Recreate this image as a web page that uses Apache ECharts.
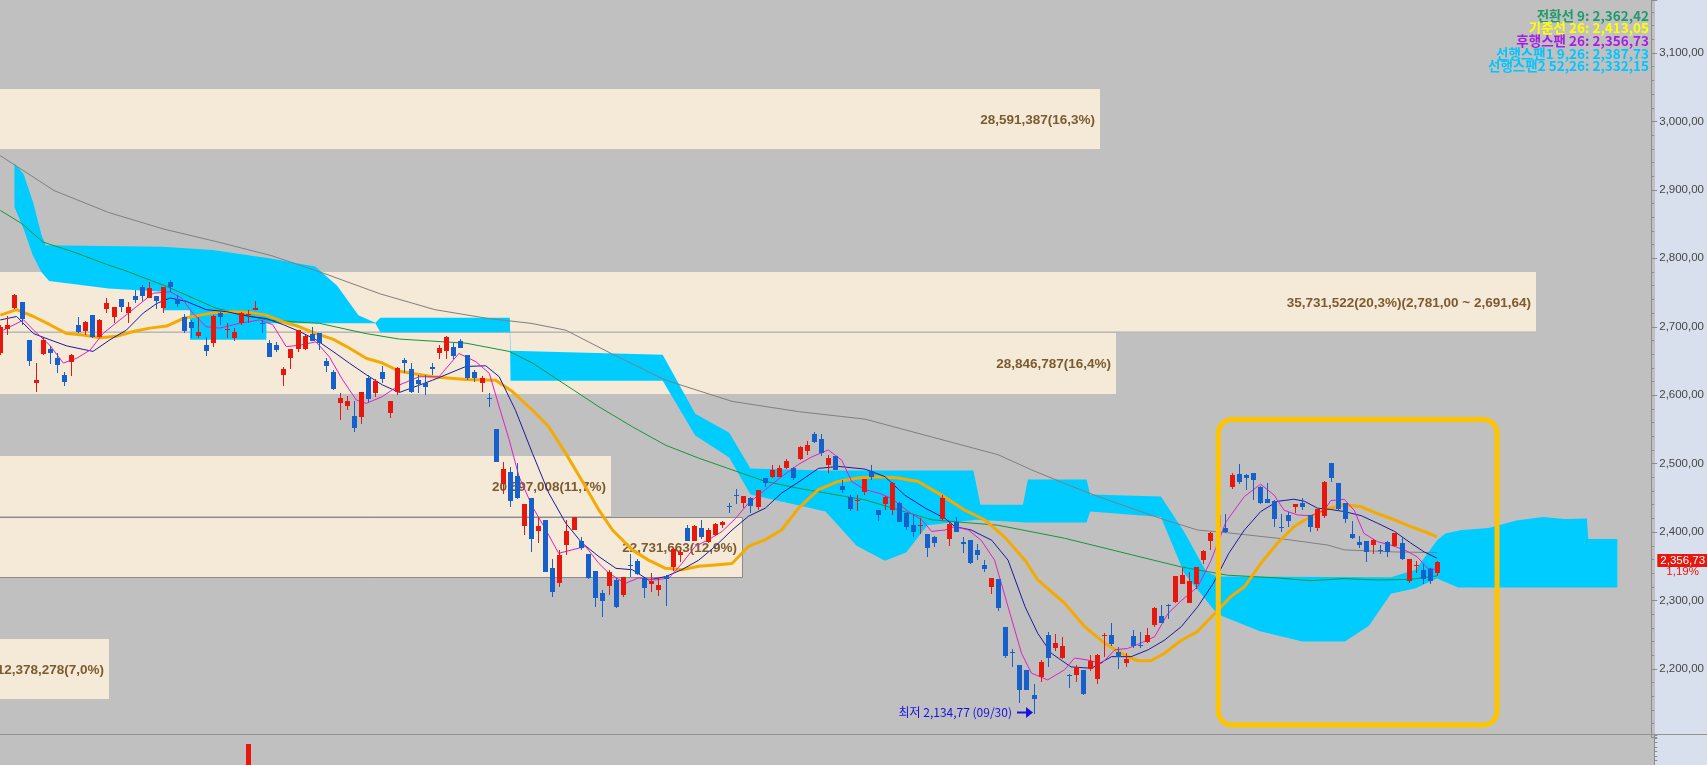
<!DOCTYPE html>
<html>
<head>
<meta charset="utf-8">
<script src="https://cdn.jsdelivr.net/npm/echarts/dist/echarts.min.js"></script>
<style>
  html, body { margin: 0; padding: 0; }
  body { background: linear-gradient(to right, #c0c0c0 0, #c0c0c0 1655px, #d7e0ec 1655px); width: 1707px; height: 765px; overflow: hidden; }
  #chart { width: 1707px; height: 765px; }
</style>
</head>
<body>
<div id="chart"></div>
<script>
// ---- daily candles: [open, close, low, high] ----
const candles = [
[2662.1,2700.1,2658.7,2702.5],[2696.7,2702.5,2687.9,2715.7],[2727.9,2746.4,2725.4,2747.8],[2735.7,2711.3,2702.5,2736.5],
[2680.6,2650.4,2642.6,2681.0],[2617.3,2622.2,2605.1,2646.5],[2659.7,2680.6,2658.7,2683.0],[2667.0,2661.2,2645.6,2671.9],
[2654.3,2644.6,2631.9,2661.2],[2629.5,2619.8,2613.4,2634.4],[2649.0,2658.7,2628.0,2659.5],[2702.5,2692.3,2691.5,2714.7],
[2693.8,2707.4,2687.9,2708.9],[2717.2,2685.5,2683.1,2717.5],[2685.5,2709.9,2684.5,2710.8],[2725.9,2734.7,2719.6,2741.5],
[2714.7,2728.8,2705.0,2729.3],[2740.5,2729.3,2722.0,2741.0],[2720.6,2728.4,2706.0,2736.6],[2744.9,2739.1,2734.2,2753.7],
[2758.6,2744.9,2738.1,2761.0],[2742.5,2757.1,2742.0,2765.9],[2744.9,2738.1,2725.4,2745.5],[2727.9,2757.6,2720.6,2758.0],
[2765.9,2758.6,2751.3,2768.3],[2740.0,2733.2,2729.3,2746.4],[2714.7,2693.8,2690.4,2718.6],[2707.4,2698.6,2683.1,2709.9],
[2687.0,2692.8,2683.1,2714.7],[2673.3,2664.6,2657.3,2685.5],[2676.7,2716.2,2670.9,2716.7],[2719.6,2714.7,2702.5,2722.0],
[2695.2,2696.2,2684.0,2705.0],[2684.0,2692.8,2679.7,2697.7],[2705.0,2719.6,2702.5,2722.0],[2717.2,2718.1,2705.0,2724.5],
[2724.9,2727.9,2724.5,2737.6],[2706.0,2705.0,2690.4,2709.9],[2676.7,2656.3,2656.0,2680.6],[2673.3,2666.0,2662.6,2678.2],
[2629.5,2638.3,2613.4,2640.7],[2654.8,2667.5,2637.8,2668.0],[2667.5,2695.2,2662.6,2695.7],[2667.5,2687.0,2666.0,2688.0],
[2689.4,2679.7,2679.0,2700.1],[2690.9,2676.7,2666.0,2691.5],[2650.4,2642.6,2634.4,2653.8],[2633.9,2609.5,2607.6,2636.8],
[2589.1,2595.4,2563.8,2602.7],[2584.2,2591.0,2578.4,2598.8],[2570.1,2552.0,2546.0,2592.0],[2568.6,2604.7,2558.0,2605.0],
[2624.6,2594.4,2590.5,2629.5],[2602.7,2620.7,2598.0,2624.0],[2633.9,2623.6,2617.3,2643.1],[2574.5,2591.5,2567.2,2592.0],
[2605.1,2639.3,2600.0,2641.0],[2651.5,2646.6,2632.0,2653.9],[2637.8,2605.2,2602.8,2646.6],[2622.3,2615.9,2602.8,2629.6],
[2617.4,2611.5,2600.3,2629.6],[2641.7,2637.8,2629.6,2646.6],[2661.2,2669.5,2652.4,2673.4],[2665.1,2685.6,2652.4,2686.0],
[2671.0,2657.3,2652.4,2675.8],[2679.2,2669.5,2669.0,2681.7],[2658.8,2624.7,2622.3,2659.0],[2633.5,2625.7,2619.8,2636.9],
[2618.4,2624.7,2605.2,2628.1],[2596.4,2594.5,2583.3,2602.8],[2550.7,2502.9,2502.0,2551.0],[2470.3,2491.7,2455.7,2502.0],
[2488.3,2446.0,2436.2,2495.6],[2482.0,2449.4,2449.0,2500.5],[2409.4,2441.1,2395.8,2441.5],[2449.4,2390.0,2371.5,2449.8],
[2401.6,2408.9,2384.6,2422.6],[2417.7,2342.2,2342.0,2418.0],[2347.1,2313.0,2305.7,2360.2],[2326.2,2366.6,2319.3,2373.9],
[2381.2,2401.6,2366.6,2417.7],[2403.1,2421.6,2402.6,2422.0],[2387.0,2376.3,2373.9,2393.4],[2368.0,2332.5,2332.0,2368.5],
[2343.2,2304.2,2291.1,2343.5],[2310.6,2299.9,2276.5,2315.4],[2321.3,2341.2,2308.1,2344.7],[2330.0,2291.1,2288.7,2332.5],
[2308.1,2333.9,2305.7,2334.9],[2352.0,2350.0,2334.9,2367.5],[2358.3,2338.3,2337.4,2360.2],[2332.5,2317.9,2303.3,2333.0],
[2323.7,2328.6,2313.0,2340.8],[2315.4,2322.7,2307.2,2334.9],[2336.4,2331.0,2292.1,2337.0],[2349.5,2375.3,2343.7,2376.3],
[2366.6,2370.5,2356.8,2373.9],[2405.5,2387.0,2386.5,2410.4],[2387.5,2408.9,2387.0,2410.4],[2405.5,2392.4,2389.5,2417.7],
[2385.1,2403.1,2383.6,2405.5],[2395.8,2411.9,2394.8,2413.8],[2410.4,2415.3,2405.5,2416.2],[2438.2,2436.2,2428.4,2443.0],
[2454.2,2452.3,2441.1,2462.5],[2442.1,2452.8,2435.7,2453.3],[2450.3,2438.2,2428.4,2450.8],[2437.2,2461.5,2432.3,2462.0],
[2478.6,2471.3,2465.4,2479.0],[2481.0,2490.8,2479.6,2498.1],[2481.0,2494.2,2480.1,2498.1],[2493.2,2503.9,2492.7,2506.4],
[2493.2,2479.6,2476.1,2494.7],[2506.8,2524.8,2505.3,2525.3],[2518.5,2527.2,2512.6,2533.1],[2543.3,2532.1,2530.6,2546.7],
[2536.0,2515.1,2511.2,2543.3],[2498.0,2507.8,2486.8,2512.6],[2511.2,2490.7,2490.2,2511.7],[2467.3,2461.5,2456.6,2476.1],
[2450.8,2433.7,2431.3,2454.2],[2446.4,2447.4,2430.8,2454.2],[2459.1,2477.6,2454.2,2478.0],[2489.7,2480.0,2476.1,2498.0],
[2432.3,2425.0,2416.7,2432.8],[2441.0,2451.8,2432.3,2452.3],[2432.3,2472.2,2425.0,2473.7],[2443.0,2415.2,2414.7,2443.5],
[2427.4,2407.9,2403.0,2427.9],[2410.4,2400.6,2392.3,2425.0],[2408.9,2409.9,2397.2,2421.1],[2396.7,2376.3,2364.1,2397.2],
[2393.3,2383.6,2378.7,2393.8],[2418.6,2449.3,2418.0,2454.2],[2389.4,2411.8,2380.2,2415.2],[2415.2,2400.6,2400.0,2422.5],
[2386.0,2382.1,2369.9,2393.3],[2388.4,2355.3,2353.4,2389.0],[2373.8,2366.5,2359.2,2382.1],[2351.9,2346.1,2341.2,2359.2],
[2320.3,2332.4,2309.1,2333.0],[2331.5,2288.6,2285.2,2332.0],[2260.8,2219.0,2215.6,2261.3],[2224.3,2223.3,2203.4,2228.7],
[2205.8,2169.3,2150.8,2206.3],[2198.5,2169.3,2168.8,2199.0],[2162.0,2155.48,2134.77,2178.1],[2188.8,2209.7,2180.5,2213.1],
[2249.6,2215.6,2203.4,2254.5],[2230.2,2237.5,2226.8,2251.1],[2215.6,2233.6,2214.1,2246.2],[2191.7,2190.7,2171.7,2192.7],
[2191.2,2202.4,2181.5,2205.8],[2198.5,2163.0,2162.0,2199.0],[2199.5,2211.7,2197.0,2220.4],[2185.4,2220.4,2177.6,2221.9],
[2249.2,2250.1,2218.0,2252.1],[2249.6,2236.0,2234.1,2267.7],[2225.3,2218.0,2199.5,2232.6],[2209.2,2214.1,2202.4,2223.8],
[2248.2,2234.1,2230.2,2257.0],[2235.5,2234.5,2230.2,2254.5],[2239.9,2249.6,2237.5,2259.4],[2264.3,2289.6,2261.8,2290.0],
[2277.4,2267.7,2266.7,2293.5],[2293.0,2292.0,2272.5,2294.5],[2298.3,2335.8,2296.9,2336.3],[2324.2,2337.3,2323.7,2347.1],
[2296.9,2329.0,2296.4,2342.2],[2324.2,2348.5,2316.4,2349.0],[2359.2,2372.4,2352.9,2373.8],[2387.0,2399.2,2373.8,2399.7],
[2408.0,2425.0,2405.0,2428.0],[2406.5,2400.6,2399.2,2426.5],[2466.4,2483.4,2462.5,2485.9],[2484.9,2473.7,2470.3,2499.5],
[2483.4,2479.5,2461.5,2484.9],[2485.9,2476.1,2446.9,2486.4],[2466.4,2442.0,2441.1,2466.9],[2448.4,2443.0,2442.5,2471.3],
[2445.9,2418.7,2408.0,2446.4],[2407.0,2406.0,2400.6,2426.5],[2425.0,2416.7,2407.0,2429.9],[2437.2,2440.6,2427.4,2441.0],
[2443.0,2437.2,2432.3,2449.3],[2425.0,2408.0,2400.6,2425.5],[2405.5,2433.8,2401.6,2434.3],[2423.5,2473.7,2421.1,2474.2],
[2500.5,2479.5,2473.7,2501.0],[2471.3,2433.3,2432.8,2471.8],[2442.0,2418.7,2412.8,2442.5],[2397.2,2390.9,2390.4,2416.2],
[2385.5,2381.2,2377.3,2394.3],[2387.0,2370.4,2356.8,2387.5],[2381.2,2388.5,2367.5,2389.4],[2373.4,2372.4,2368.0,2381.2],
[2385.1,2370.4,2364.1,2387.5],[2379.7,2398.2,2378.7,2399.2],[2383.6,2360.2,2359.7,2391.9],[2329.1,2360.2,2326.1,2360.7],
[2351.0,2351.9,2340.7,2358.3],[2344.2,2331.5,2323.7,2353.4],[2345.6,2329.02,2324.2,2347.1],[2339.8,2356.73,2335.9,2357.5]
];

// ---- moving averages, read at [bar index, value] ----
const ma5 = [[0,2693],[1.4,2700],[3.3,2710],[4.7,2695],[7,2673],[8.9,2647],[10.8,2654],[12.7,2666],[14.5,2690],[16.9,2710],[19.2,2729],[21.6,2749],[24,2751],[25.6,2742],[27.2,2720],[29.1,2700],[31,2698],[33.8,2705],[36.6,2710],[38.5,2703],[40.4,2671],[42.3,2673],[44.6,2678],[46.5,2656],[48.4,2622],[50.3,2593],[51.7,2588],[54,2598],[56.4,2615],[59.2,2627],[62,2627],[64.8,2661],[67.2,2649],[69.1,2632],[70.5,2583],[71.9,2535],[73.3,2481],[75.2,2437],[77.1,2403],[78.9,2369],[80.8,2374],[82.7,2379],[84.6,2354],[86,2340],[88.3,2325],[90.2,2333],[92.6,2330],[94.5,2333],[96.3,2354],[98.2,2379],[100.1,2389],[102,2401],[103.9,2420],[105.7,2442],[108.1,2462],[110.4,2481],[112.8,2499],[114.7,2510],[117,2520],[118.9,2505],[120.3,2474],[122.2,2462],[124.1,2457],[126,2449],[128.3,2430],[130.2,2418],[131.6,2401],[133.5,2403],[134.9,2408],[136.8,2403],[138.6,2388],[140.5,2359],[142.4,2291],[144.3,2223],[145.7,2194],[148,2184],[150.4,2199],[151.8,2216],[153.7,2213],[155.6,2208],[157.5,2228],[159.3,2230],[161.2,2238],[163.1,2247],[165,2281],[166.9,2300],[169.2,2320],[171.1,2359],[173.2,2415],[175.8,2452],[178.1,2470],[180,2454],[181.4,2432],[183.3,2425],[185.2,2424],[187.1,2432],[188,2446],[189.9,2448],[191.3,2432],[192.7,2398],[194.6,2386],[196.5,2381],[198.4,2374],[200.2,2364],[201.7,2347],[203,2345]];
const ma10 = [[0,2710],[2.3,2715],[4.7,2690],[7,2681],[9.4,2672],[11.7,2667],[13.1,2664],[15.5,2681],[17.8,2695],[20.2,2720],[22.1,2734],[24,2742],[26.3,2737],[29.1,2725],[32,2722],[35.2,2715],[37.6,2712],[40,2703],[42.3,2693],[44.6,2681],[47,2664],[49.3,2647],[51.7,2630],[54,2615],[56.4,2604],[61.1,2622],[65.8,2642],[68.6,2643],[70.5,2627],[72.8,2578],[75.2,2515],[77.5,2457],[79.9,2413],[82.2,2384],[84.6,2364],[87,2347],[89.3,2345],[91.6,2330],[94,2335],[96.3,2345],[98.7,2359],[101,2379],[103.4,2403],[105.7,2423],[108.1,2435],[110.4,2457],[112.8,2473],[115.6,2493],[118.4,2496],[122.2,2492],[125,2481],[127.8,2454],[130.7,2435],[133.5,2420],[134.9,2408],[137.2,2403],[140.1,2388],[142.4,2359],[144.8,2291],[146.6,2252],[148.5,2223],[151.3,2203],[154.2,2201],[157,2218],[159.8,2218],[162.2,2228],[164.5,2242],[166.9,2262],[169.2,2291],[171.4,2325],[173.6,2369],[175.8,2403],[178.1,2430],[180.5,2445],[182.8,2448],[184.3,2445],[186.1,2435],[188,2433],[189.9,2430],[192.3,2424],[194.6,2413],[197,2401],[199.3,2384],[201.2,2371],[203,2362]];
const ma20 = [[0,2717],[2.3,2725],[4.7,2715],[7,2703],[9.4,2690],[11.7,2688],[14.1,2684],[16.4,2686],[18.8,2693],[21.1,2698],[23.5,2701],[25.8,2712],[28.2,2717],[30.5,2721],[32.9,2722],[35.2,2721],[37.6,2717],[40,2707],[42.3,2700],[44.6,2690],[47,2682],[49.3,2669],[51.7,2654],[54,2647],[56.4,2635],[61.1,2627],[65.8,2623],[70,2622],[72.4,2605],[75.2,2578],[77.5,2554],[79.9,2515],[82.2,2475],[84.6,2432],[86.5,2403],[89.3,2374],[91.6,2359],[94,2347],[96.3,2345],[98.7,2350],[101,2352],[103.4,2354],[105.7,2379],[108.1,2389],[110.4,2403],[112.8,2435],[115.6,2462],[118.4,2474],[121.2,2479],[124.1,2481],[126.9,2479],[129.7,2474],[133,2454],[136.3,2432],[139.1,2418],[141.9,2393],[144.8,2359],[146.6,2330],[150.4,2296],[153.2,2262],[156,2238],[158.9,2220],[160.7,2212],[162.6,2212],[164.5,2223],[166.9,2242],[169.2,2255],[171.6,2281],[173.9,2306],[175.8,2320],[178.1,2354],[180.5,2384],[182.8,2408],[185.2,2423],[187.5,2434],[189.9,2440],[192.3,2437],[194.6,2427],[197,2418],[199.3,2408],[201.7,2399],[203,2393]];
const ma60 = [[0,2870],[3,2851],[6,2824],[10.7,2808],[15.3,2790],[17.4,2783],[23.5,2759],[30.5,2727],[37.6,2710],[45.1,2705],[51.7,2690],[56.4,2682],[65.8,2676],[71.9,2664],[75.2,2647],[79.9,2615],[84.6,2583],[89.3,2554],[94,2527],[98.7,2508],[103.4,2491],[108.1,2474],[112.8,2464],[122.2,2447],[131.6,2418],[141,2410],[150.4,2391],[159.8,2367],[166.9,2349],[173.4,2337],[180.5,2333],[185.2,2329],[189.9,2332],[194.6,2330],[199.3,2331],[203,2336]];
const ma120 = [[0,2950],[7.6,2899],[15.3,2867],[23,2843],[30.7,2824],[38.3,2804],[46,2777],[53.7,2748],[61.4,2725],[69,2712],[75,2705],[79.9,2695],[86.5,2660],[94,2622],[103.4,2591],[112.8,2576],[122.2,2565],[131.6,2539],[141,2513],[145.7,2491],[150.4,2471],[155.1,2452],[159.8,2435],[164.5,2418],[169.2,2403],[173.4,2399],[180.5,2391],[187.6,2381],[189.9,2374],[197,2371],[203,2370]];

// ---- ichimoku cloud edges (leading spans, shifted 26 bars forward) ----
const cloudEdgeA = [[2,2939],[3.3,2923],[4.6,2883],[5.8,2835],[6.4,2819],[23,2817],[30,2812],[38,2800],[44.5,2788],[47.6,2760],[50.6,2717],[53,2706],[53.7,2713],[72,2713],[72.1,2665],[93.6,2659],[98.2,2573],[103,2545],[106,2493],[116.6,2490],[137.5,2490],[138.5,2440],[144.5,2440],[145.2,2477],[153.5,2477],[154,2455],[164,2452],[167.3,2400],[170.4,2342],[172,2335],[196.5,2334],[200,2345],[203,2387.73],[204.2,2398],[206.5,2403],[210.3,2406],[214.2,2417],[218,2422],[221,2419],[224.2,2420],[224.4,2390],[228.5,2390]];
const cloudEdgeB = [[2,2875],[3.3,2843],[4.6,2804],[5.8,2780],[6.9,2767],[15.3,2756],[23,2751],[23,2724],[26.8,2724],[26.8,2681],[37.6,2681],[37.6,2705],[53,2705],[53.7,2692],[72,2692],[72.1,2621],[93.6,2621],[98.2,2541],[103,2509],[106,2455],[116.6,2430],[121,2380],[125,2358],[128,2370],[131,2410],[138,2418],[145,2414],[153.5,2414],[154,2430],[164,2422],[167.3,2340],[172,2280],[178,2255],[184,2240],[190,2240],[193.4,2263],[196.5,2310],[200,2318],[203,2332.15],[206,2319],[228.5,2319]];

// ---- volume-at-price bins ----
const vpLow    = [2155.48, 2334.20, 2423.56, 2602.28, 2691.64, 2959.72];
const vpHigh   = [2244.84, 2423.56, 2512.92, 2691.64, 2781.00, 3049.08];
const vpVolume = [12378278, 22731663, 20597008, 28846787, 35731522, 28591387];
const vpShare  = [7.0, 12.9, 11.7, 16.4, 20.3, 16.3];

// ---- lower panel volume spike ----
const lowerVolume = [[35, 7000]];

// ---- annotations ----
const lowPoint = [146, 2134.77, '09/30'];
const focusBox = [172.1, 2564.5, 211.5, 2118];
const ichimokuLegend = [
  ['전환선 9', 2362.42, '#1f9a6c'],
  ['기준선 26', 2413.05, '#ffff00'],
  ['후행스팬 26', 2356.73, '#a41ee6'],
  ['선행스팬1 9,26', 2387.73, '#00c6ff'],
  ['선행스팬2 52,26', 2332.15, '#00c6ff']
];

const UP = '#e6170d', DOWN = '#1660cc';
const AXIS_FONT = '"Liberation Sans", Arial, sans-serif';

function fmt(v, d) {
  const s = v.toFixed(d);
  const parts = s.split('.');
  const ip = parts[0].replace(/\B(?=(\d{3})+(?!\d))/g, ',');
  return parts.length > 1 ? ip + ',' + parts[1] : ip;
}

const lastIdx = candles.length - 1;
const lastClose = candles[lastIdx][1];
const prevClose = candles[lastIdx - 1][1];
const changePct = (lastClose - prevClose) / prevClose * 100;
const maxVpIdx = vpVolume.indexOf(Math.max(...vpVolume));
const curVpIdx = vpLow.findIndex((lo, k) => lastClose >= lo && lastClose < vpHigh[k]);

const chart = echarts.init(document.getElementById('chart'), null, { renderer: 'canvas', width: 1707, height: 765 });

// layout of the price pane
const BAR_STEP = 7.09;
const X_MIN = 0, X_MAX = 233;
const PLOT_LEFT = 0.3;
const PLOT_W = (X_MAX - X_MIN) * BAR_STEP;
const AXIS_X = 1654.3;
const PX_PER_PT = 0.6844;
const Y_MIN = 2100;
const Y_MAX = 3100 + 53 / PX_PER_PT;
const GRID_H = (Y_MAX - Y_MIN) * PX_PER_PT;
const VP_MIN = 10598000, VP_MAX = VP_MIN + PLOT_W / 61.23e-6;

function lineSeries(name, data, color, width) {
  return {
    name, type: 'line', xAxisIndex: 0, yAxisIndex: 0, data,
    showSymbol: false, symbol: 'none', smooth: false, z: 4,
    lineStyle: { color, width }, silent: true, animation: false
  };
}

const option = {
  animation: false,
  backgroundColor: 'transparent',
  grid: [
    { left: PLOT_LEFT, top: 0, width: PLOT_W, height: GRID_H },
    { left: PLOT_LEFT, top: 735, width: PLOT_W, height: 60 }
  ],
  xAxis: [
    { type: 'value', gridIndex: 0, min: X_MIN, max: X_MAX, show: false },
    { type: 'value', gridIndex: 0, min: VP_MIN, max: VP_MAX, show: false },
    { type: 'value', gridIndex: 1, min: X_MIN, max: X_MAX, show: false }
  ],
  yAxis: [
    {
      type: 'value', gridIndex: 0, position: 'right', offset: AXIS_X - (PLOT_LEFT + PLOT_W),
      min: Y_MIN, max: Y_MAX, interval: 100,
      axisLine: { show: true, onZero: false, lineStyle: { color: '#8c8c8c', width: 1 } },
      axisTick: { show: true, inside: false, length: 6, lineStyle: { color: '#8c8c8c' } },
      minorTick: { show: true, splitNumber: 5, length: 3, lineStyle: { color: '#8c8c8c' } },
      splitLine: { show: false },
      axisLabel: {
        show: true, margin: 8, color: '#464646', showMinLabel: false, showMaxLabel: false,
        fontFamily: AXIS_FONT, fontSize: 11.5,
        formatter: v => fmt(v, 2)
      }
    },
    {
      type: 'value', gridIndex: 1, position: 'right', offset: AXIS_X - (PLOT_LEFT + PLOT_W),
      min: 0, max: 10000, interval: 1500,
      axisLine: { show: true, onZero: false, lineStyle: { color: '#8c8c8c', width: 1 } },
      axisTick: { show: true, length: 3, lineStyle: { color: '#8c8c8c' } },
      axisLabel: { show: false }, splitLine: { show: false }
    }
  ],
  series: [
    // volume-at-price bars with their labels
    {
      type: 'custom', xAxisIndex: 1, yAxisIndex: 0, z: 1, silent: true,
      data: vpVolume.map((v, k) => [v, vpLow[k], vpHigh[k], k]),
      renderItem: (params, api) => {
        const k = api.value(3);
        const a = api.coord([VP_MIN, vpHigh[k]]);
        const b = api.coord([vpVolume[k], vpLow[k]]);
        const x0 = 0, x1 = Math.round(b[0]);
        const y0 = Math.round(a[1]) + 1, y1 = Math.round(b[1]);
        let label = fmt(vpVolume[k], 0) + '(' + fmt(vpShare[k], 1) + '%)';
        if (k === maxVpIdx) label += '(' + fmt(vpHigh[k], 2) + ' ~ ' + fmt(vpLow[k], 2) + ')';
        const outlined = k === curVpIdx;
        const children = [
          { type: 'rect', shape: { x: x0 - 2, y: y0 + (outlined ? 0.5 : 0), width: x1 - x0 + 2 + (outlined ? 0.5 : 0), height: y1 - y0 },
            style: { fill: '#f5e9d7', stroke: outlined ? '#8a8a8a' : null, lineWidth: 1 } },
          { type: 'text', style: { text: label, x: x1 - 5, y: (y0 + y1) / 2 + 1, align: 'right', verticalAlign: 'middle',
            fill: '#7b5c30', font: 'bold 13.5px "Liberation Sans", Arial, sans-serif' } }
        ];
        if (k === maxVpIdx) {
          children.push({ type: 'rect', shape: { x: 0, y: y1 - 0.5, width: x1, height: 1 }, style: { fill: '#b2b2b2' } });
        }
        return { type: 'group', children };
      }
    },
    // ichimoku cloud
    {
      type: 'custom', xAxisIndex: 0, yAxisIndex: 0, z: 2, silent: true,
      data: [[0, 2500]],
      renderItem: (params, api) => {
        const pts = cloudEdgeA.map(p => api.coord(p)).concat(cloudEdgeB.slice().reverse().map(p => api.coord(p)));
        return { type: 'polygon', shape: { points: pts }, style: { fill: '#00ccff', stroke: null } };
      }
    },
    lineSeries('MA120', ma120, '#7f7f7f', 1),
    lineSeries('MA60', ma60, '#14963a', 1),
    lineSeries('MA20', ma20, '#f4aa00', 3),
    lineSeries('MA10', ma10, '#1a1aa0', 1),
    lineSeries('MA5', ma5, '#e01ec8', 1),
    // candles
    {
      type: 'custom', xAxisIndex: 0, yAxisIndex: 0, z: 6, silent: true,
      data: candles.map((c, i) => [i, c[0], c[1], c[2], c[3]]),
      encode: { x: 0, y: [1, 2, 3, 4] },
      renderItem: (params, api) => {
        const i = api.value(0), o = api.value(1), c = api.value(2), l = api.value(3), h = api.value(4);
        const po = api.coord([i, o]), pc = api.coord([i, c]), pl = api.coord([i, l]), ph = api.coord([i, h]);
        const x = Math.round(po[0]);
        const color = c >= o ? UP : DOWN;
        const top = Math.round(Math.min(po[1], pc[1]));
        const bot = Math.round(Math.max(po[1], pc[1]));
        const yh = Math.round(ph[1]), yl = Math.round(pl[1]);
        return {
          type: 'group', children: [
            { type: 'rect', shape: { x: x, y: yh, width: 1, height: Math.max(1, yl - yh) }, style: { fill: color } },
            { type: 'rect', shape: { x: x - 2, y: top, width: 5, height: Math.max(1, bot - top) }, style: { fill: color } }
          ]
        };
      }
    },
    // lowest-price marker
    {
      type: 'custom', xAxisIndex: 0, yAxisIndex: 0, z: 7, silent: true,
      data: [lowPoint.slice(0, 2)],
      renderItem: (params, api) => {
        const p = api.coord([api.value(0), api.value(1)]);
        const x = Math.round(p[0]), y = Math.round(p[1]) - 2;
        return {
          type: 'group', children: [
            { type: 'rect', shape: { x: x - 17, y: y - 0.5, width: 10, height: 2 }, style: { fill: '#1414e0' } },
            { type: 'polygon', shape: { points: [[x - 8, y - 5], [x - 1, y + 0.5], [x - 8, y + 6]] }, style: { fill: '#1414e0' } },
            { type: 'text', style: { text: '최저 ' + fmt(api.value(1), 2) + ' (' + lowPoint[2] + ')', x: x - 22, y: y, align: 'right', verticalAlign: 'middle',
              fill: '#1414e0', font: '12px "Noto Sans CJK KR", sans-serif' } }
          ]
        };
      }
    },
    // focus box
    {
      type: 'custom', xAxisIndex: 0, yAxisIndex: 0, z: 8, silent: true,
      data: [focusBox],
      renderItem: (params, api) => {
        const a = api.coord([api.value(0), api.value(1)]);
        const b = api.coord([api.value(2), api.value(3)]);
        return { type: 'rect', shape: { x: a[0], y: a[1], width: b[0] - a[0], height: b[1] - a[1], r: 14 },
          style: { fill: null, stroke: '#ffc400', lineWidth: 5 } };
      }
    },
    // last price tag on the axis
    {
      type: 'custom', xAxisIndex: 0, yAxisIndex: 0, z: 9, silent: true, clip: false,
      data: [[lastIdx, lastClose]],
      renderItem: (params, api) => {
        const p = api.coord([api.value(0), api.value(1)]);
        const y = Math.round(p[1]);
        return {
          type: 'group', children: [
            { type: 'rect', shape: { x: AXIS_X + 3, y: y - 8, width: 60, height: 13 }, style: { fill: '#e6170d' } },
            { type: 'text', style: { text: fmt(api.value(1), 2), x: AXIS_X + 6, y: y - 1, align: 'left', verticalAlign: 'middle',
              fill: '#ffffff', font: '11.5px ' + AXIS_FONT } },
            { type: 'text', style: { text: fmt(changePct, 2) + '%', x: AXIS_X + 12, y: y + 10, align: 'left', verticalAlign: 'middle',
              fill: '#e6170d', font: '11.5px ' + AXIS_FONT } }
          ]
        };
      }
    },
    // lower panel volume
    {
      type: 'custom', xAxisIndex: 2, yAxisIndex: 1, z: 3, silent: true,
      data: lowerVolume,
      renderItem: (params, api) => {
        const a = api.coord([api.value(0), api.value(1)]);
        const b = api.coord([api.value(0), 0]);
        const x = Math.round(a[0]);
        return { type: 'rect', shape: { x: x - 2, y: Math.round(a[1]), width: 5, height: b[1] - a[1] }, style: { fill: UP } };
      }
    }
  ],
  graphic: [
    { type: 'rect', z: 20, silent: true, shape: { x: 0, y: 734, width: 1707, height: 1 }, style: { fill: '#939393' } }
  ].concat(ichimokuLegend.map((row, k) => ({
    type: 'text', z: 20, silent: true,
    style: { text: row[0] + ': ' + fmt(row[1], 2), x: 1649, y: 15.5 + k * 12.7, align: 'right', verticalAlign: 'middle',
      fill: row[2], font: 'bold 13.5px "Noto Sans CJK KR", sans-serif' }
  })))
};

chart.setOption(option);
</script>
</body>
</html>
